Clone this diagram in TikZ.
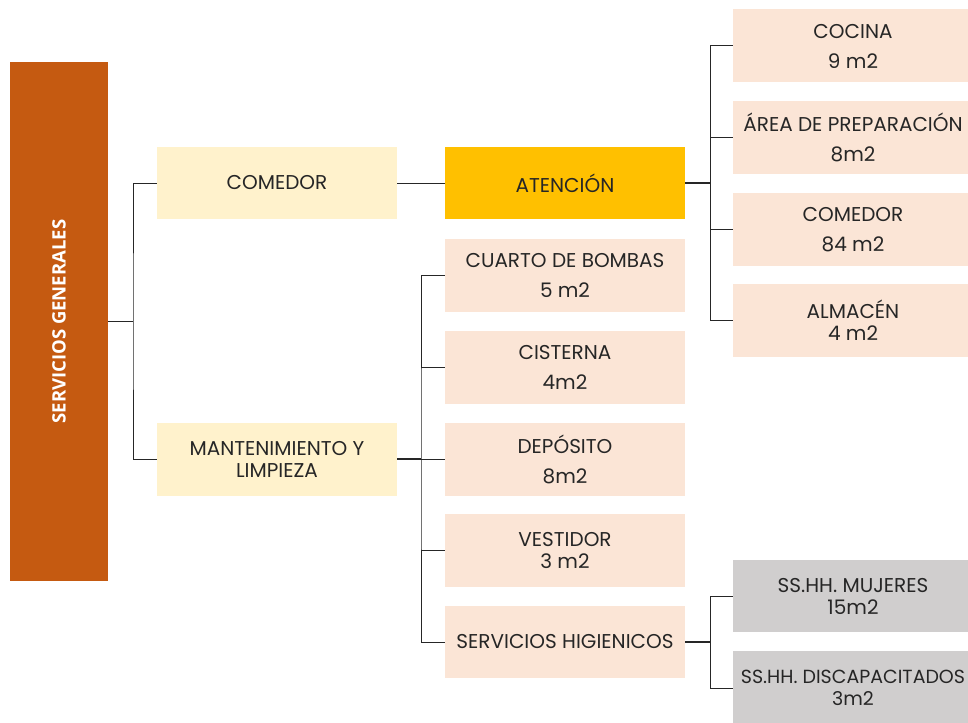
\documentclass[tikz,border=0pt]{standalone}
\usepackage{fontspec}
\setmainfont{Poppins}
\newfontfamily\titlefont{Open Sans}
\usepackage{xcolor}
\definecolor{sgorange}{HTML}{C55A11}
\definecolor{lightyellow}{HTML}{FFF2CC}
\definecolor{gold}{HTML}{FFC000}
\definecolor{peach}{HTML}{FBE5D6}
\definecolor{lightgray}{HTML}{D0CECE}
\definecolor{textgray}{HTML}{262626}

\begin{document}
\begin{tikzpicture}[x=1pt,y=-1pt,
    box/.style={inner sep=0pt,minimum width=240pt,minimum height=73pt,
      align=center,text=textgray,font=\fontsize{20}{30}\selectfont},
    tight/.style={font=\fontsize{20}{22}\selectfont},
    line/.style={draw=black!85,line width=1pt},
    hub/.style={draw=black!85,line width=1.8pt}]
    \useasboundingbox (0,0) rectangle (968,722);
    \clip (0,0) rectangle (968,722);

    \node[box,fill=sgorange,minimum width=98pt,minimum height=519pt] (sg) at (59,321.5)
      {\rotatebox{90}{\titlefont\bfseries\fontsize{18.5}{20}\selectfont\color{white}SERVICIOS GENERALES}};

    \node[box,fill=lightyellow,minimum height=72pt] (comedor) at (277,183) {COMEDOR};
    \node[box,tight,fill=lightyellow] (mant) at (277,459) {MANTENIMIENTO Y\\LIMPIEZA};

    \node[box,fill=gold,minimum height=72pt] (aten) at (565,183) {ATENCIÓN};
    \node[box,fill=peach] (bombas) at (565,275) {CUARTO DE BOMBAS\\5 m2};
    \node[box,fill=peach] (cisterna) at (565,367) {CISTERNA\\4m2};
    \node[box,fill=peach] (deposito) at (565,459) {DEPÓSITO\\8m2};
    \node[box,tight,fill=peach] (vestidor) at (565,550) {VESTIDOR\\3 m2};
    \node[box,fill=peach,minimum height=72pt] (sshh) at (565,642) {SERVICIOS HIGIENICOS};

    \node[box,fill=peach] (cocina) at (853,46) {COCINA\\9 m2};
    \node[box,fill=peach] (area) at (853,137.5) {ÁREA DE PREPARACIÓN\\8m2};
    \node[box,fill=peach] (comedorb) at (853,229.5) {COMEDOR\\84 m2};
    \node[box,tight,fill=peach] (almacen) at (853,320.5) {ALMACÉN\\4 m2};

    \node[box,tight,fill=lightgray,minimum height=72pt] (mujeres) at (853,596) {SS.HH. MUJERES\\15m2};
    \node[box,fill=lightgray,minimum height=74pt,font=\fontsize{19}{22}\selectfont] (discap) at (853,688) {SS.HH. DISCAPACITADOS\\3m2};

    \coordinate (sgbus) at (133,321.5);
    \coordinate (atbus) at (710,183);
    \coordinate (mantbus) at (421,459);
    \coordinate (sshhbus) at (710,642);

    \draw[hub] (sg.east) -- (sgbus);
    \draw[line] (comedor.west) -| (sgbus) |- (mant.west);
    \draw[line] (comedor.east) -- (aten.west);

    \draw[hub] (aten.east) -- (atbus);
    \draw[line] (cocina.west) -| (atbus) |- (almacen.west);
    \foreach \n in {area,comedorb}
      \draw[line] (\n.west) -- (\n.west -| atbus);

    \draw[hub] (mant.east) -- (mantbus);
    \draw[line] (bombas.west) -| (mantbus) |- (sshh.west);
    \foreach \n in {cisterna,deposito,vestidor}
      \draw[line] (\n.west) -- (\n.west -| mantbus);

    \draw[hub] (sshh.east) -- (sshhbus);
    \draw[line] (mujeres.west) -| (sshhbus) |- (discap.west);
\end{tikzpicture}
\end{document}
